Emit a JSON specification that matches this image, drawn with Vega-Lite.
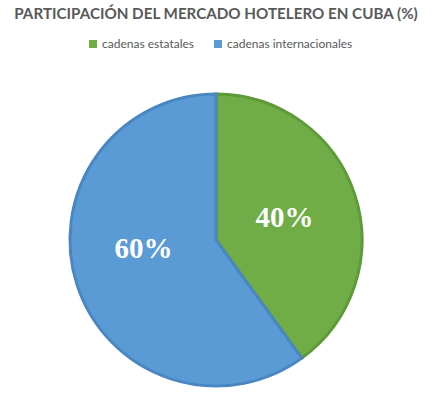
{
  "$schema": "https://vega.github.io/schema/vega-lite/v6.json",
  "width": 432,
  "height": 320,
  "autosize": {"type": "none"},
  "padding": {"left": 0, "top": 80, "right": 10, "bottom": 1},
  "background": "white",
  "title": {
    "text": "PARTICIPACIÓN DEL MERCADO HOTELERO EN CUBA (%)",
    "font": "Lato",
    "fontSize": 15.2,
    "fontWeight": "bold",
    "color": "#595959",
    "anchor": "middle",
    "offset": 16
  },
  "data": {
    "values": [
      {"categoria": "cadenas estatales", "valor": 40, "etiqueta": "40%", "orden": 1},
      {"categoria": "cadenas internacionales", "valor": 60, "etiqueta": "60%", "orden": 2}
    ]
  },
  "encoding": {
    "theta": {"field": "valor", "type": "quantitative", "stack": true},
    "order": {"field": "orden", "type": "quantitative"}
  },
  "layer": [
    {
      "mark": {"type": "arc", "outerRadius": 146, "strokeWidth": 3},
      "encoding": {
        "color": {
          "field": "categoria",
          "type": "nominal",
          "scale": {"domain": ["cadenas estatales", "cadenas internacionales"], "range": ["#70AD47", "#5B9BD5"]},
          "legend": {
            "orient": "none",
            "legendX": 87,
            "legendY": -42,
            "title": null,
            "direction": "horizontal",
            "symbolType": "square",
            "symbolSize": 64,
            "symbolStrokeWidth": 0,
            "symbolOffset": 0,
            "labelOffset": 3,
            "labelFont": "Lato",
            "labelFontSize": 12,
            "labelColor": "#595959",
            "columnPadding": 17,
            "padding": 0
          }
        },
        "stroke": {
          "field": "categoria",
          "type": "nominal",
          "scale": {"domain": ["cadenas estatales", "cadenas internacionales"], "range": ["#5E9A38", "#4A87C2"]},
          "legend": null
        }
      }
    },
    {
      "mark": {"type": "text", "radius": 72, "font": "Liberation Serif", "fontSize": 29, "fontWeight": "bold", "color": "white", "baseline": "middle", "align": "center", "dy": {"expr": "datum.valor > 50 ? -13 : 0"}, "dx": {"expr": "datum.valor > 50 ? -4 : 0"}},
      "encoding": {
        "text": {"field": "etiqueta", "type": "nominal"}
      }
    }
  ],
  "config": {"view": {"stroke": null}}
}
